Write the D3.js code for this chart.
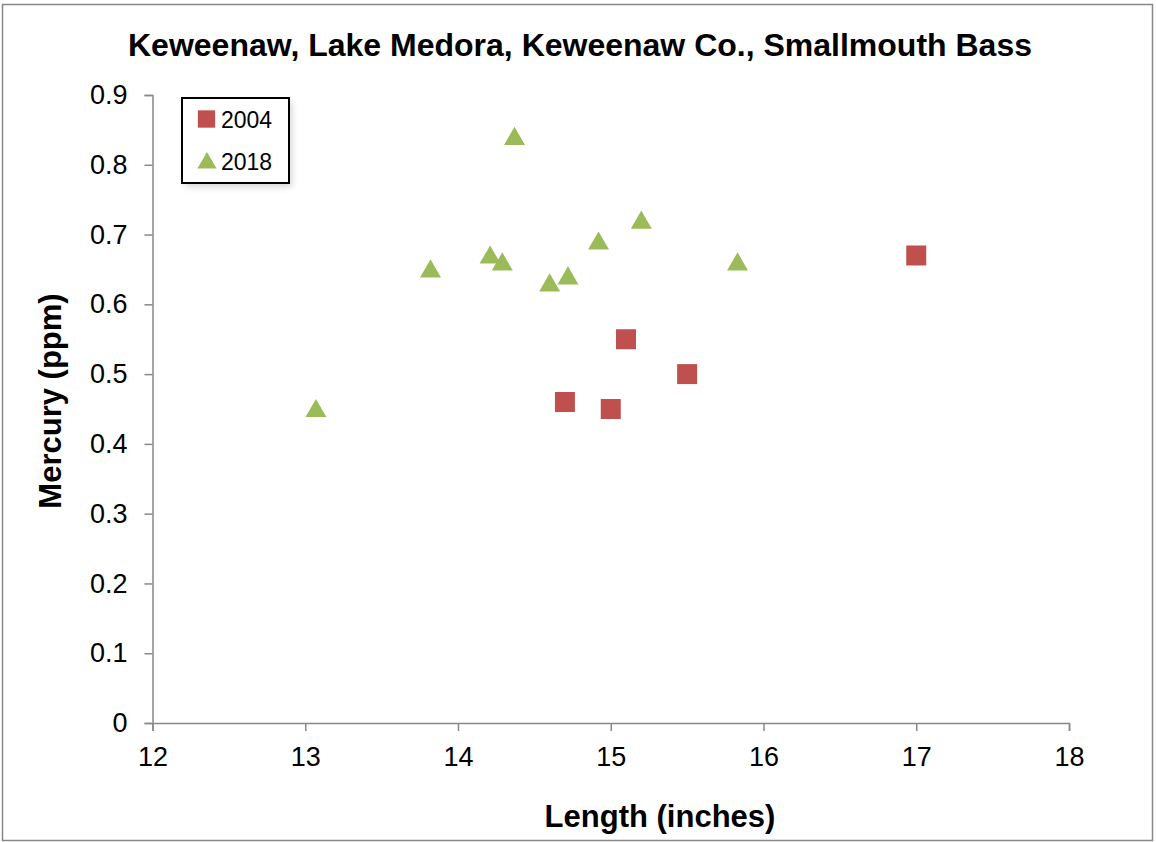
<!DOCTYPE html>
<html lang="en">
<head>
  <meta charset="UTF-8">
  <script src="https://d3js.org/d3.v7.min.js"></script>
  <title>Smallmouth Bass mercury</title>
  <style>
    body { margin: 0; background: #fff; }
    text { font-family: "Liberation Sans", Arial, sans-serif; }
  </style>
</head>
<body>
  <svg width="1156" height="842"></svg>
  <script>
    // length (inches) and mercury (ppm) by sample year
    const len2004 = [14.7, 15.0, 15.1, 15.5, 17.0]
    const hg2004 = [0.46, 0.45, 0.55, 0.50, 0.67]
    const len2018 = [13.07, 13.82, 14.21, 14.29, 14.37, 14.6, 14.72, 14.92, 15.2, 15.83]
    const hg2018 = [0.45, 0.65, 0.67, 0.66, 0.84, 0.63, 0.64, 0.69, 0.72, 0.66]
    const xTicks = [12, 13, 14, 15, 16, 17, 18]
    const yTicks = [0, 0.1, 0.2, 0.3, 0.4, 0.5, 0.6, 0.7, 0.8, 0.9]

    const RED = '#C0504D'
    const GREEN = '#9BBB59'
    const AXIS = '#888'

    const svg = d3.select('svg')

    // outer frame
    svg.append('rect')
      .attr('x', 2.5).attr('y', 4.5).attr('width', 1150).attr('height', 836)
      .attr('fill', 'none').attr('stroke', '#888').attr('stroke-width', 1.5)

    const x = d3.scaleLinear().domain([12, 18]).range([152.5, 1069])
    const y = d3.scaleLinear().domain([0, 0.9]).range([723, 95])

    const xAxis = svg.append('g')
      .attr('transform', `translate(0,${y(0)})`)
      .call(d3.axisBottom(x).tickValues(xTicks).tickSize(8).tickPadding(16).tickFormat(d3.format('d')))
    const yAxis = svg.append('g')
      .attr('transform', `translate(${x(12)},0)`)
      .call(d3.axisLeft(y).tickValues(yTicks).tickSize(8).tickPadding(17).tickFormat(d => d === 0 ? '0' : d3.format('.1f')(d)))

    ;[xAxis, yAxis].forEach(g => {
      g.select('.domain').attr('stroke', AXIS).attr('stroke-width', 1.5)
      g.selectAll('.tick line').attr('stroke', AXIS).attr('stroke-width', 1.5)
      g.selectAll('.tick text')
        .attr('fill', '#000')
        .style('font-family', '"Liberation Sans", Arial, sans-serif')
        .style('font-size', '27px')
    })

    // title and axis titles
    svg.append('text')
      .attr('x', 580).attr('y', 56)
      .attr('text-anchor', 'middle')
      .style('font-size', '32px').style('font-weight', 'bold')
      .text('Keweenaw, Lake Medora, Keweenaw Co., Smallmouth Bass')

    svg.append('text')
      .attr('transform', 'translate(61,401) rotate(-90)')
      .attr('text-anchor', 'middle')
      .style('font-size', '31px').style('font-weight', 'bold')
      .text('Mercury (ppm)')

    svg.append('text')
      .attr('x', 660).attr('y', 827)
      .attr('text-anchor', 'middle')
      .style('font-size', '31px').style('font-weight', 'bold')
      .text('Length (inches)')

    const square = d3.symbol().type(d3.symbolSquare).size(400)
    const triangle = d3.symbol().type(d3.symbolTriangle).size(190)

    svg.append('g').selectAll('path')
      .data(d3.zip(len2004, hg2004))
      .join('path')
      .attr('d', square)
      .attr('transform', d => `translate(${x(d[0])},${y(d[1])})`)
      .attr('fill', RED)

    svg.append('g').selectAll('path')
      .data(d3.zip(len2018, hg2018))
      .join('path')
      .attr('d', triangle)
      .attr('transform', d => `translate(${x(d[0])},${y(d[1]) + 2})`)
      .attr('fill', GREEN)

    // legend
    const legend = svg.append('g').attr('transform', 'translate(182,98)')
    legend.append('rect')
      .attr('x', 3).attr('y', 4).attr('width', 107).attr('height', 85)
      .attr('fill', '#bbb').attr('opacity', 0.6)
      .style('filter', 'blur(3px)')
    legend.append('rect')
      .attr('width', 107).attr('height', 85)
      .attr('fill', '#fff').attr('stroke', '#000').attr('stroke-width', 2)
    legend.append('path')
      .attr('d', d3.symbol().type(d3.symbolSquare).size(300))
      .attr('transform', 'translate(24.5,21)').attr('fill', RED)
    legend.append('path')
      .attr('d', d3.symbol().type(d3.symbolTriangle).size(160))
      .attr('transform', 'translate(25,65)').attr('fill', GREEN)
    legend.append('text').attr('x', 39).attr('y', 30)
      .style('font-size', '23px').text('2004')
    legend.append('text').attr('x', 39).attr('y', 72)
      .style('font-size', '23px').text('2018')
  </script>
</body>
</html>
